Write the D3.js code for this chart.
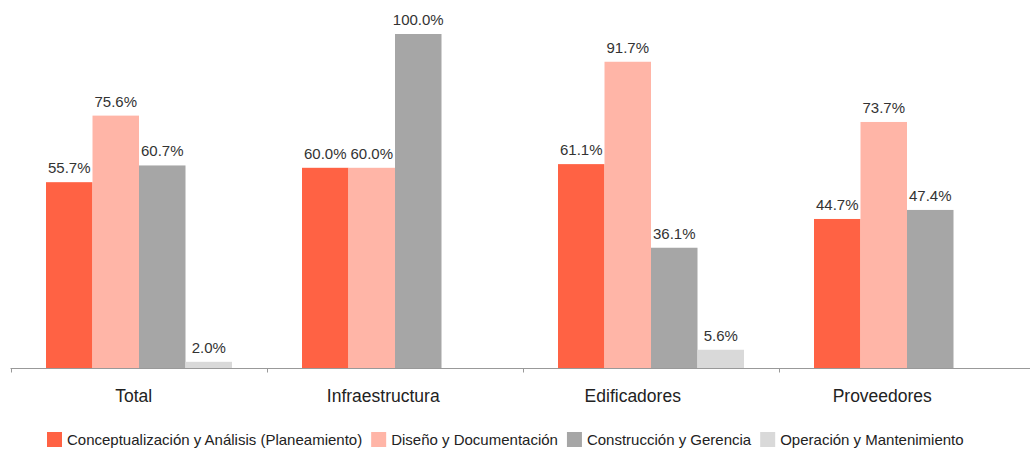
<!DOCTYPE html>
<html>
<head>
<meta charset="utf-8">
<script src="https://cdn.jsdelivr.net/npm/d3@7"></script>
<style>
  html, body { margin: 0; padding: 0; background: #fff; }
  svg { display: block; font-family: "Liberation Sans", Arial, sans-serif; }
</style>
</head>
<body>
<svg id="chart" width="1030" height="450"></svg>
<script>
// Sectors shown along the x axis
const categories = ["Total", "Infraestructura", "Edificadores", "Proveedores"];

// Project phases (one bar per phase in each sector)
const seriesNames = [
  "Conceptualización y Análisis (Planeamiento)",
  "Diseño y Documentación",
  "Construcción y Gerencia",
  "Operación y Mantenimiento"
];

// Percentages per phase, in the order of `categories` (null = no bar)
const conceptualizacion = [55.7, 60.0, 61.1, 44.7];
const diseno            = [75.6, 60.0, 91.7, 73.7];
const construccion      = [60.7, 100.0, 36.1, 47.4];
const operacion         = [2.0, null, 5.6, null];

const seriesValues = [conceptualizacion, diseno, construccion, operacion];
const colors = ["#ff6244", "#ffb5a7", "#a6a6a6", "#d9d9d9"];

const svg = d3.select("#chart");
const baseY = 368.5;
const topY = 34;

// Scales
const x0 = d3.scaleBand().domain(categories).range([10.5, 1034.5]);
const x1 = d3.scaleBand().domain(seriesNames).range([35.5, 221.5]);
const xLabel = d3.scaleBand().domain(categories).range([9, 1007]);
const y = d3.scaleLinear().domain([0, 100]).range([baseY, topY]);
const color = d3.scaleOrdinal().domain(seriesNames).range(colors);

// Flatten into bar records
const bars = [];
categories.forEach((cat, ci) => {
  seriesNames.forEach((s, si) => {
    const v = seriesValues[si][ci];
    if (v !== null) bars.push({ cat, series: s, value: v });
  });
});

const g = svg.append("g");

// Bars
g.selectAll("rect.bar")
  .data(bars)
  .join("rect")
  .attr("class", "bar")
  .attr("x", d => x0(d.cat) + x1(d.series))
  .attr("width", x1.bandwidth())
  .attr("y", d => y(d.value))
  .attr("height", d => y(0) - y(d.value))
  .attr("fill", d => color(d.series));

// Value labels
g.selectAll("text.val")
  .data(bars)
  .join("text")
  .attr("class", "val")
  .attr("x", d => x0(d.cat) + x1(d.series) + x1.bandwidth() / 2)
  .attr("y", d => y(d.value) - 9)
  .attr("text-anchor", "middle")
  .attr("font-size", 15)
  .attr("fill", "#333")
  .text(d => d.value.toFixed(1) + "%");

// Category axis: baseline and ticks at band boundaries
const axisG = svg.append("g");
axisG.append("line")
  .attr("x1", x0.range()[0]).attr("x2", 1030)
  .attr("y1", baseY).attr("y2", baseY)
  .attr("stroke", "#999").attr("stroke-width", 1.2);
axisG.selectAll("line.tick")
  .data(categories)
  .join("line")
  .attr("class", "tick")
  .attr("x1", d => Math.round(x0(d)) + 0.5)
  .attr("x2", d => Math.round(x0(d)) + 0.5)
  .attr("y1", baseY)
  .attr("y2", baseY + 4)
  .attr("stroke", "#999");
axisG.selectAll("text.cat")
  .data(categories)
  .join("text")
  .attr("class", "cat")
  .attr("x", d => xLabel(d) + xLabel.bandwidth() / 2)
  .attr("y", 402)
  .attr("text-anchor", "middle")
  .attr("font-size", 17.5)
  .attr("fill", "#222")
  .text(d => d);

// Legend laid out left to right from measured text widths
const legend = svg.append("g");
let lx = 47;
seriesNames.forEach((s) => {
  const item = legend.append("g").attr("transform", `translate(${lx},0)`);
  item.append("rect")
    .attr("x", 0).attr("y", 432)
    .attr("width", 15).attr("height", 15)
    .attr("fill", color(s));
  const t = item.append("text")
    .attr("x", 20).attr("y", 445)
    .attr("font-size", 15)
    .attr("fill", "#222")
    .text(s);
  lx += 20 + t.node().getComputedTextLength() + 9;
});
</script>
</body>
</html>
